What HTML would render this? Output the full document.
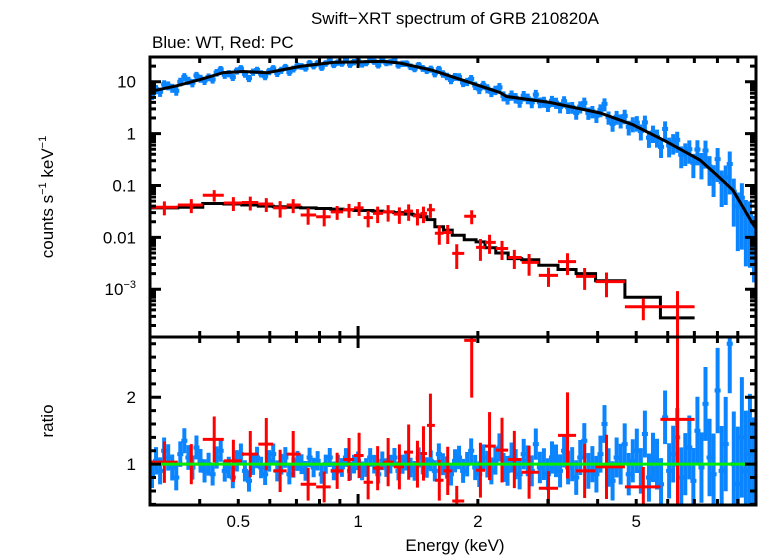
<!DOCTYPE html>
<html><head><meta charset="utf-8"><style>
html,body{margin:0;padding:0;background:#fff;}
svg{display:block;font-family:"Liberation Sans",sans-serif;}
</style></head><body>
<svg id="chart" width="758" height="556" viewBox="0 0 758 556" xmlns="http://www.w3.org/2000/svg">
<defs>
<clipPath id="clipTop"><rect x="150" y="57" width="606" height="280"/></clipPath>
<clipPath id="clipBot"><rect x="150" y="337" width="606" height="168"/></clipPath>
</defs>
<text x="455" y="24" font-size="17" text-anchor="middle">Swift−XRT spectrum of GRB 210820A</text>
<text x="152" y="48" font-size="17">Blue: WT, Red: PC</text>
<text transform="translate(53,197) rotate(-90)" font-size="17" text-anchor="middle">counts s<tspan font-size="11" dy="-7">−1</tspan><tspan dy="7"> keV</tspan><tspan font-size="11" dy="-7">−1</tspan></text>
<text transform="translate(53,421) rotate(-90)" font-size="17" text-anchor="middle">ratio</text>
<text x="455" y="551" font-size="17" text-anchor="middle">Energy (keV)</text>
<g id="gTop" clip-path="url(#clipTop)"></g>
<g id="gBot" clip-path="url(#clipBot)"></g>
<g id="gAxes"></g>
</svg>
<script>
// ---- data ----
const wtModelE = [0.301,0.351,0.401,0.459,0.515,0.591,0.715,0.866,1.155,1.274,1.542,1.877,2.272,2.36,3.03,4.06,4.91,5.96,7.23,7.96,8.74,9.26,9.8,10.0];
const wtModelV = [6.5,8.4,11,15,15.8,14.9,19.8,23.6,24.7,23,16.5,10.1,6.2,5.2,4.0,2.5,1.48,0.70,0.31,0.16,0.082,0.039,0.0186,0.015];
const wtRatio = [0.85,1.05,0.9,1.2,1.1,0.95,0.8,1.15,1.35,1.1,
0.95,1.25,1.05,0.9,1.0,0.85,1.1,1.2,0.9,0.95,
0.8,1.05,1.15,0.9,0.75,1.0,1.1,0.95,0.85,1.05,
1.15,0.9,1.0,1.1,0.85,0.95,1.05,1.0,0.9,1.1,
0.95,1.05,0.85,1.0,1.1,0.9,1.0,0.95,1.1,0.9,
1.0,1.05,0.9,0.95,1.1,1.0,0.85,1.05,0.95,1.0,
1.1,0.9,1.0,1.05,0.95,0.9,1.1,1.0,0.95,1.05,
0.9,1.15,1.0,0.95,0.85,1.05,1.1,0.9,1.0,1.2,
0.95,0.85,1.1,1.0,0.9,1.05,1.25,0.95,0.9,1.1,
1.0,0.85,1.15,1.05,0.9,1.3,0.95,1.0,0.85,1.1,
1.05,0.9,1.2,0.95,1.0,0.8,1.1,1.35,0.9,1.0,
0.85,1.15,1.6,0.95,0.75,1.1,1.0,1.3,0.85,1.05,
1.2,0.9,1.45,0.8,1.1,1.0,0.7,1.7,0.9,1.15,
1.4,0.8,1.0,1.25,0.75,1.5,0.95,1.9,1.1,0.85,
2.1,0.9,1.3,2.8,1.0,0.7,1.4,0.9,1.15,0.8];
const pcE = [0.326,0.381,0.435,0.486,0.536,0.588,0.637,0.687,0.749,0.822,0.886,0.949,1.006,1.06,1.12,1.19,1.27,1.34,1.41,1.46,1.52,1.60,1.68,1.77,1.93,2.03,2.14,2.30,2.47,2.69,3.01,3.36,3.71,4.21,5.21,6.35];
const pcVal = [0.038,0.042,0.065,0.046,0.047,0.044,0.037,0.042,0.027,0.025,0.031,0.034,0.037,0.024,0.029,0.031,0.028,0.032,0.026,0.029,0.034,0.012,0.0124,0.0049,0.0256,0.0064,0.008,0.0061,0.0041,0.0033,0.00185,0.0034,0.00177,0.0014,0.00046,0.00046];
const pcModel = [0.037,0.038,0.045,0.044,0.042,0.040,0.039,0.038,0.037,0.036,0.035,0.034,0.033,0.033,0.032,0.031,0.030,0.028,0.027,0.025,0.022,0.016,0.0138,0.011,0.009,0.0082,0.0063,0.005,0.0039,0.0037,0.0029,0.0024,0.002,0.00146,0.0007,0.00028];
const pcRatio = [1.03,1.0,1.37,1.05,1.15,1.30,0.9,1.15,0.70,0.66,0.9,1.07,1.13,0.73,0.94,1.03,0.96,1.18,1.0,1.16,1.58,0.76,0.9,0.45,2.85,0.91,1.27,1.21,1.07,0.88,0.64,1.43,0.9,0.96,0.66,1.67];
const pcRelErr = [0.3,0.3,0.25,0.3,0.3,0.3,0.35,0.3,0.35,0.35,0.3,0.3,0.3,0.35,0.35,0.35,0.35,0.35,0.35,0.35,0.3,0.4,0.4,0.5,0.3,0.45,0.4,0.4,0.4,0.45,0.4,0.45,0.45,0.5,0.45,1.0];
const xTickMajor = [0.5,1,2,5];
const xTickMajorLabels = ["0.5","1","2","5"];
const yTopMajor = [10,1,0.1,0.01,0.001];
const yRatioMajor = [1,2];

// ---- scales ----
const X0=150,X1=756,T0=57,T1=337,B1=505;
const eMin=0.3,eMax=10,vMin=1.2e-4,vMax=30,rMin=0.39,rMax=2.9;
const L=Math.log10;
function xs(e){return X0+(L(e)-L(eMin))/(L(eMax)-L(eMin))*(X1-X0);}
function ys(v){return T0+(L(vMax)-L(v))/(L(vMax)-L(vMin))*(T1-T0);}
function yr(r){return T1+(rMax-r)/(rMax-rMin)*(B1-T1);}
function wtModelAt(e){
  for(let i=0;i<wtModelE.length-1;i++){
    if(e<=wtModelE[i+1]){const t=(L(e)-L(wtModelE[i]))/(L(wtModelE[i+1])-L(wtModelE[i]));
      return Math.pow(10,L(wtModelV[i])+t*(L(wtModelV[i+1])-L(wtModelV[i])));}
  }
  return wtModelV[wtModelV.length-1];
}
const NS="http://www.w3.org/2000/svg";
function mk(tag,attrs,parent){const el=document.createElementNS(NS,tag);for(const k in attrs)el.setAttribute(k,attrs[k]);parent.appendChild(el);return el;}
const gTop=document.getElementById('gTop'),gBot=document.getElementById('gBot'),gAx=document.getElementById('gAxes');
const BLUE="#0a84ff",RED="#ff0000";

// ---- WT data ----
const N=wtRatio.length;
for(let i=0;i<N;i++){
  const lo=Math.pow(10,L(eMin)+(L(eMax)-L(eMin))*i/N);
  const hi=Math.pow(10,L(eMin)+(L(eMax)-L(eMin))*(i+1)/N);
  const c=Math.sqrt(lo*hi);
  const m=wtModelAt(c);
  const err=Math.min(0.14*Math.pow(24/m,0.3),0.9);
  const v=m*wtRatio[i];
  const cx=xs(c);
  let p=mk('path',{d:`M${xs(lo)-1},${ys(v)}H${xs(hi)+1}M${cx},${ys(v*(1+err))}V${ys(Math.max(v*(1-err),1e-6))}`,stroke:BLUE,'stroke-width':4,fill:'none'},gTop);
  
  
  const r=wtRatio[i];
  let q=mk('path',{d:`M${xs(lo)-1},${yr(r)}H${xs(hi)+1}M${cx},${yr(r+err)}V${yr(r-err)}`,stroke:BLUE,'stroke-width':4,fill:'none'},gBot);
  
  
}
let dm='';
for(let i=0;i<wtModelE.length;i++){dm+=(i?'L':'M')+xs(wtModelE[i])+','+ys(wtModelV[i]);}
const wtLine=mk('path',{d:dm,stroke:'#000','stroke-width':3,fill:'none'},gTop);



// ---- PC data ----
const edges=[];
for(let i=0;i<=pcE.length;i++){
  if(i===0)edges.push(pcE[0]/Math.sqrt(pcE[1]/pcE[0]));
  else if(i===pcE.length)edges.push(pcE[i-1]*Math.sqrt(pcE[i-1]/pcE[i-2]));
  else edges.push(Math.sqrt(pcE[i-1]*pcE[i]));
}
let dp='';
for(let i=0;i<pcE.length;i++){
  dp+=(i?'L':'M')+xs(edges[i])+','+ys(pcModel[i])+'H'+xs(edges[i+1]);
}
const pcLine=mk('path',{d:dp,stroke:'#000','stroke-width':3,fill:'none'},gTop);


for(let i=0;i<pcE.length;i++){
  const v=pcVal[i],e=pcRelErr[i],cx=xs(pcE[i]);
  const lowV=e>=1?1e-7:v*(1-e);
  let p=mk('path',{d:`M${xs(edges[i])},${ys(v)}H${xs(edges[i+1])}M${cx},${ys(v*(1+e))}V${ys(lowV)}`,stroke:RED,'stroke-width':3,fill:'none'},gTop);
  
  
  const r=pcRatio[i],re=r*e;
  let q=mk('path',{d:`M${xs(edges[i])},${yr(r)}H${xs(edges[i+1])}M${cx},${yr(r+re)}V${yr(r-re)}`,stroke:RED,'stroke-width':3,fill:'none'},gBot);
  
  
}
const unity=mk('line',{x1:X0,x2:X1,y1:yr(1),y2:yr(1),stroke:'#00ee00','stroke-width':3},gBot);



// ---- axes ----
let ta='';
for(let dec=-1;dec<=1;dec++){
  for(let k=1;k<=9;k++){
    const e=k*Math.pow(10,dec);
    if(e<eMin-1e-9||e>eMax+1e-9)continue;
    const x=xs(e);
    const len=(k===1)?11:6;
    ta+=`M${x},${T0}v${len}M${x},${T1}v${-len}M${x},${T1}v${len}M${x},${B1}v${-len}`;
  }
}
for(let dec=-4;dec<=1;dec++){
  for(let k=1;k<=9;k++){
    const v=k*Math.pow(10,dec);
    if(v<vMin||v>vMax)continue;
    const y=ys(v),len=(k===1)?11:6;
    ta+=`M${X0},${y}h${len}M${X1},${y}h${-len}`;
  }
}
for(let j=0;j<=14;j++){
  const r=0.4+j*0.2;
  if(r>rMax)continue;
  const y=yr(r),maj=Math.abs(r-Math.round(r))<1e-6;
  const len=maj?11:6;
  ta+=`M${X0},${y}h${len}M${X1},${y}h${-len}`;
}
const ticks=mk('path',{d:ta,stroke:'#000','stroke-width':3,fill:'none'},gAx);


const f1=mk('rect',{x:X0,y:T0,width:X1-X0,height:T1-T0,stroke:'#000','stroke-width':3,fill:'none'},gAx);


const f2=mk('rect',{x:X0,y:T1,width:X1-X0,height:B1-T1,stroke:'#000','stroke-width':3,fill:'none'},gAx);


for(let i=0;i<xTickMajor.length;i++){
  const t=mk('text',{x:xs(xTickMajor[i]),y:527,'font-size':17,'text-anchor':'middle'},gAx);
  t.textContent=xTickMajorLabels[i];
  
  
}
for(let i=0;i<yTopMajor.length;i++){
  const v=yTopMajor[i];
  const t=mk('text',{x:136,y:ys(v)+6,'font-size':17,'text-anchor':'end'},gAx);
  if(v<0.005){t.innerHTML='10<tspan font-size="11" dy="-7">−3</tspan>';}
  else t.textContent=String(v);
  
  
}
for(let i=0;i<yRatioMajor.length;i++){
  const t=mk('text',{x:136,y:yr(yRatioMajor[i])+6,'font-size':17,'text-anchor':'end'},gAx);
  t.textContent=String(yRatioMajor[i]);
  
  
}
</script>
</body></html>
